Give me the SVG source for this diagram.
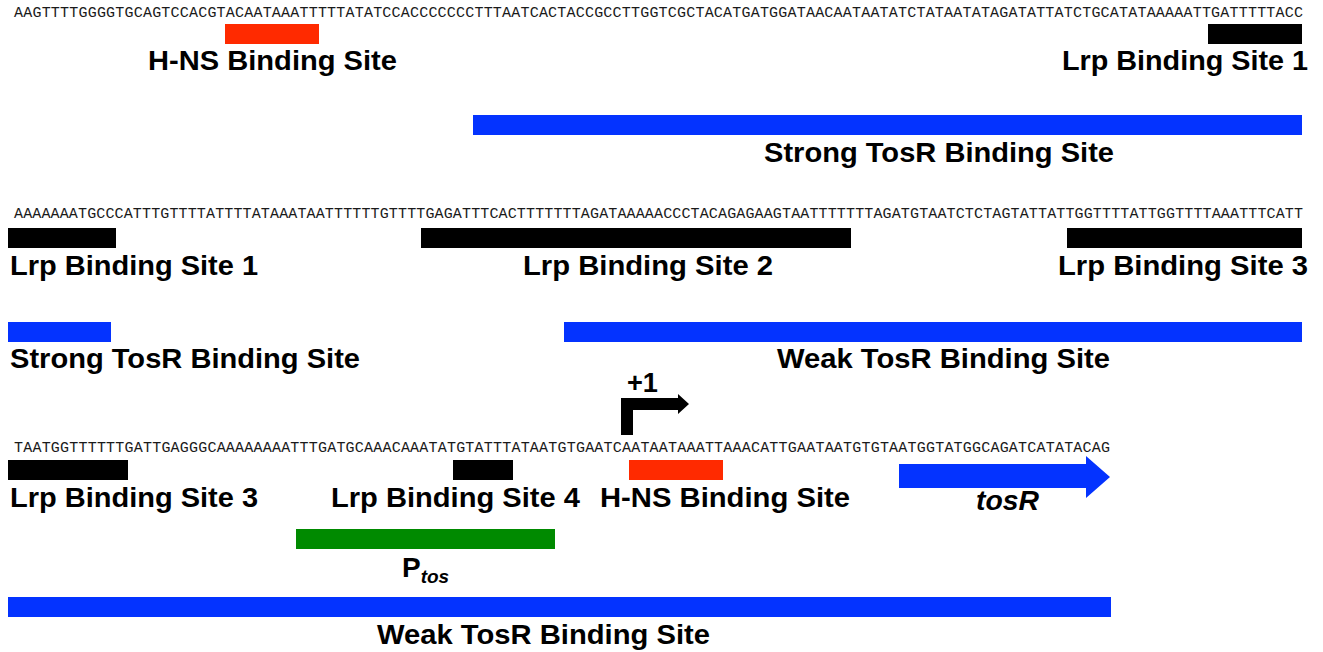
<svg xmlns="http://www.w3.org/2000/svg" width="1323" height="652" viewBox="0 0 1323 652">
<style>
.seq{font-family:"Liberation Mono",monospace;font-size:15px;fill:#1a1a1a;}
.lbl{font-family:"Liberation Sans",Arial,sans-serif;font-size:28px;font-weight:bold;fill:#000;}
.it{font-style:italic;}
.red{fill:#ff2a00;}
.blk{fill:#000;}
.blu{fill:#0433ff;}
.grn{fill:#008a00;}
</style>
<rect width="1323" height="652" fill="#fff"/>
<g id="sequences">
<text class="seq" x="14" y="17" textLength="1289" lengthAdjust="spacing">AAGTTTTGGGGTGCAGTCCACGTACAATAAATTTTTATATCCACCCCCCCTTTAATCACTACCGCCTTGGTCGCTACATGATGGATAACAATAATATCTATAATATAGATATTATCTGCATATAAAAATTGATTTTTACC</text>
<text class="seq" x="14" y="218" textLength="1289" lengthAdjust="spacing">AAAAAAATGCCCATTTGTTTTATTTTATAAATAATTTTTTGTTTTGAGATTTCACTTTTTTTAGATAAAAACCCTACAGAGAAGTAATTTTTTTAGATGTAATCTCTAGTATTATTGGTTTTATTGGTTTTAAATTTCATT</text>
<text class="seq" x="14" y="452" textLength="1096" lengthAdjust="spacing">TAATGGTTTTTTGATTGAGGGCAAAAAAAATTTGATGCAAACAAATATGTATTTATAATGTGAATCAATAATAAATTAAACATTGAATAATGTGTAATGGTATGGCAGATCATATACAG</text>
</g>
<g id="hns1"><rect class="red" x="225" y="24" width="94" height="20"/><text class="lbl" x="148" y="70" textLength="249" lengthAdjust="spacingAndGlyphs">H-NS Binding Site</text></g>
<g id="lrp1a"><rect class="blk" x="1208" y="24" width="94" height="20"/><text class="lbl" x="1062" y="70" textLength="246" lengthAdjust="spacingAndGlyphs">Lrp Binding Site 1</text></g>
<g id="strong1"><rect class="blu" x="473" y="115" width="829" height="20"/><text class="lbl" x="764" y="162" textLength="350" lengthAdjust="spacingAndGlyphs">Strong TosR Binding Site</text></g>
<g id="lrp1b"><rect class="blk" x="8" y="228" width="108" height="20"/><text class="lbl" x="10" y="275" textLength="248" lengthAdjust="spacingAndGlyphs">Lrp Binding Site 1</text></g>
<g id="lrp2"><rect class="blk" x="421" y="228" width="430" height="20"/><text class="lbl" x="523" y="275" textLength="250" lengthAdjust="spacingAndGlyphs">Lrp Binding Site 2</text></g>
<g id="lrp3a"><rect class="blk" x="1067" y="228" width="235" height="20"/><text class="lbl" x="1058" y="275" textLength="250" lengthAdjust="spacingAndGlyphs">Lrp Binding Site 3</text></g>
<g id="strong2"><rect class="blu" x="8" y="322" width="103" height="20"/><text class="lbl" x="10" y="368" textLength="350" lengthAdjust="spacingAndGlyphs">Strong TosR Binding Site</text></g>
<g id="weak1"><rect class="blu" x="564" y="322" width="738" height="20"/><text class="lbl" x="777" y="368" textLength="333" lengthAdjust="spacingAndGlyphs">Weak TosR Binding Site</text></g>
<g id="tss"><path class="blk" d="M621,435 L633,435 L633,410 L678,410 L678,414 L689,404 L678,394 L678,398 L621,398 Z"/><text class="lbl" x="627" y="392" textLength="31" lengthAdjust="spacingAndGlyphs">+1</text></g>
<g id="lrp3b"><rect class="blk" x="8" y="460" width="120" height="20"/><text class="lbl" x="10" y="507" textLength="248" lengthAdjust="spacingAndGlyphs">Lrp Binding Site 3</text></g>
<g id="lrp4"><rect class="blk" x="453" y="460" width="60" height="20"/><text class="lbl" x="331" y="507" textLength="249" lengthAdjust="spacingAndGlyphs">Lrp Binding Site 4</text></g>
<g id="hns2"><rect class="red" x="629" y="460" width="94" height="20"/><text class="lbl" x="600" y="507" textLength="250" lengthAdjust="spacingAndGlyphs">H-NS Binding Site</text></g>
<g id="tosR"><path class="blu" d="M899,464 L1086,464 L1086,456 L1110,477 L1086,498 L1086,488 L899,488 Z"/><text class="lbl it" x="976" y="510" textLength="63" lengthAdjust="spacingAndGlyphs">tosR</text></g>
<g id="ptos"><rect class="grn" x="296" y="529" width="259" height="20"/><text class="lbl" x="402" y="577">P<tspan class="it" font-size="19" dy="6">tos</tspan></text></g>
<g id="weak2"><rect class="blu" x="8" y="597" width="1103" height="20"/><text class="lbl" x="377" y="644" textLength="333" lengthAdjust="spacingAndGlyphs">Weak TosR Binding Site</text></g>
</svg>
